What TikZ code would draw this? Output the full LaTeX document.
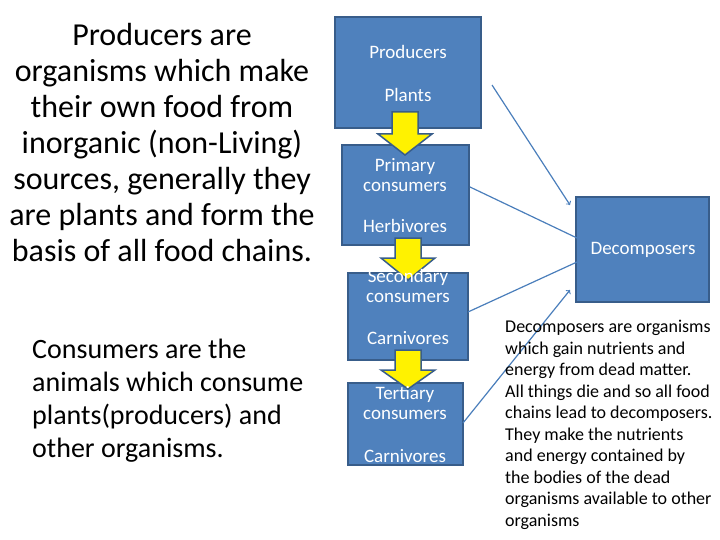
\documentclass[tikz,border=0pt]{standalone}
\usepackage{fontspec}
\setmainfont{Carlito}
\definecolor{boxblue}{HTML}{4F81BD}
\definecolor{boxline}{HTML}{385D8A}
\definecolor{linkblue}{HTML}{4A7EBB}
\newcommand{\yarrow}[4]{% x, shaft top, head base, tip
    \filldraw[draw=boxline, line width=1.5pt, fill=yellow]
      (#1-13,#2) -- (#1+13,#2) -- (#1+13,#3) -- (#1+27,#3) -- (#1,#4)
      -- (#1-27,#3) -- (#1-13,#3) -- cycle;}
\begin{document}
\begin{tikzpicture}[x=1pt,y=-1pt,
    box/.style={rectangle, draw=boxline, line width=2pt, fill=boxblue, inner sep=0pt},
    lbl/.style={text=white, font=\fontsize{19}{20}\selectfont, align=center},
    link/.style={draw=linkblue, line width=1.2pt}
]
    \useasboundingbox (0,0) rectangle (720,540);
    % chain boxes
    \node[box, minimum width=146pt, minimum height=111pt] (prod) at (408,72.5) {};
    \node[box, minimum width=127pt, minimum height=100pt] (prim) at (405.5,195) {};
    \node[box, minimum width=120pt, minimum height=87pt] (sec) at (408,316.5) {};
    \node[box, minimum width=115pt, minimum height=82pt] (tert) at (405.5,424) {};
    \node[box, minimum width=133pt, minimum height=105pt] (dec) at (642.5,249.5) {};

    \yarrow{405}{112}{134}{155}
    \yarrow{408}{238}{258}{280}
    \yarrow{408}{350}{370}{389}

    % labels
    \node[lbl] (t1) at (408,52) {Producers};
    \node[lbl] (t2) at (408,95) {Plants};
    \node[lbl] (t3) at (405,175) {Primary\\consumers};
    \node[lbl] (t4) at (405,226) {Herbivores};
    \node[lbl] (t5) at (408,286) {Secondary\\consumers};
    \node[lbl] (t6) at (408,338) {Carnivores};
    \node[lbl] (t7) at (405,403) {Tertiary\\consumers};
    \node[lbl] (t8) at (405,456) {Carnivores};
    \node[lbl] (t9) at (643,250) {Decomposers};

    % links to decomposers
    \coordinate (p1) at (492,85);
    \coordinate (p2) at (570,205);
    \coordinate (q1) at (470,187);
    \coordinate (q2) at (577,238);
    \coordinate (r1) at (468,312);
    \coordinate (r2) at (577,262);
    \coordinate (s1) at (463,423);
    \coordinate (s2) at (570,290);
    \draw[link, ->] (p1) -- (p2);
    \draw[link] (q1) -- (q2);
    \draw[link] (r1) -- (r2);
    \draw[link, ->] (s1) -- (s2);

    % texts
    \node[align=center, font=\fontsize{32}{36}\selectfont] (prodtxt) at (162,143)
        {Producers are\\organisms which make\\their own food from\\inorganic (non-Living)\\sources, generally they\\are plants and form the\\basis of all food chains.};
    \node[align=left, anchor=west, inner sep=0pt, font=\fontsize{28}{33}\selectfont] (constxt) at (32,401)
        {Consumers are the\\animals which consume\\plants(producers) and\\other organisms.};
    \node[align=left, anchor=north west, inner sep=0pt, font=\fontsize{18}{21.5}\selectfont] (dectxt) at (505,320)
        {Decomposers are organisms\\which gain nutrients and\\energy from dead matter.\\All things die and so all food\\chains lead to decomposers.\\They make the nutrients\\and energy contained by\\the bodies of the dead\\organisms available to other\\organisms};
\end{tikzpicture}
\end{document}
